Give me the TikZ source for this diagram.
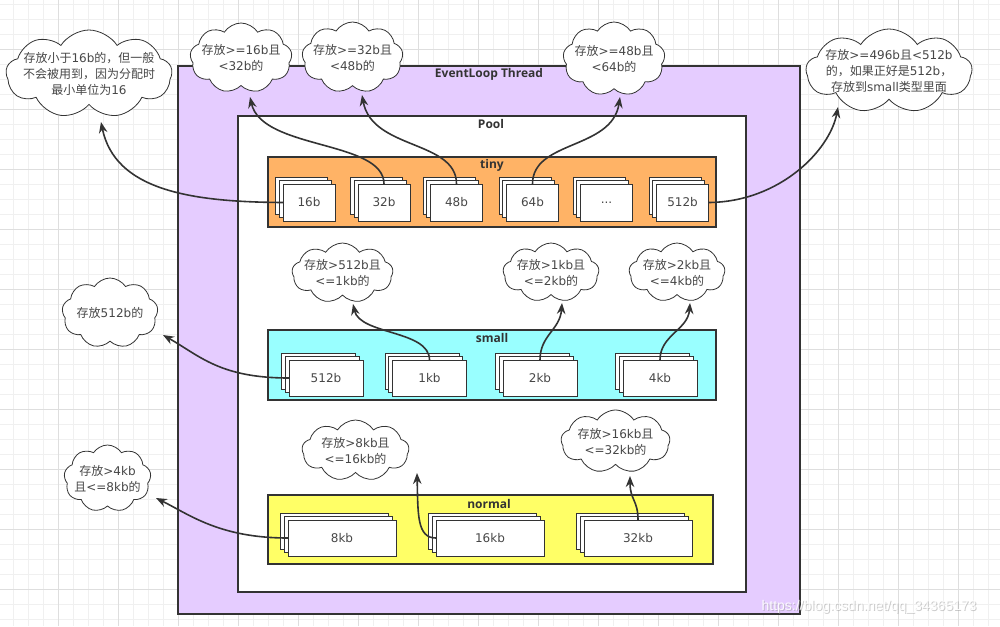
\documentclass[tikz,border=0pt]{standalone}
\usepackage{fontspec}
\setmainfont{DejaVu Sans}
\newfontfamily\cjkf{Noto Sans CJK SC}
\newfontfamily\lblfont{Open Sans}
\newfontfamily\wmfont{Liberation Sans}
\newcommand\zh[1]{{\cjkf #1}}
\usetikzlibrary{arrows.meta,shapes.symbols}
\definecolor{ink}{HTML}{333333}
\definecolor{evtfill}{HTML}{E5CCFF}
\definecolor{tinyfill}{HTML}{FFB366}
\definecolor{smallfill}{HTML}{99FFFF}
\definecolor{normfill}{HTML}{FFFF66}
\definecolor{gridminor}{HTML}{F0F0F0}
\definecolor{gridmajor}{HTML}{DEDEDE}
% stack of three boxes: name, x, y (front centre), width, height, label
\newcommand\stk[6]{%
  \node[sbox,minimum width=#4,minimum height=#5] (#1b) at (#2-7.5,#3-7) {};
  \node[sbox,minimum width=#4,minimum height=#5] (#1m) at (#2-3.75,#3-3.5) {};
  \node[sbox,minimum width=#4,minimum height=#5] (#1) at (#2,#3) {#6};
}
\begin{document}
\begin{tikzpicture}[x=1pt,y=-1pt,
  container/.style={draw=ink,line width=1.2pt,inner sep=0pt,outer sep=0pt},
  hdr/.style={font=\lblfont\bfseries\fontsize{12}{14}\selectfont,text=ink,inner sep=0pt},
  sbox/.style={draw=ink,line width=0.8pt,fill=white,inner sep=0pt,outer sep=0pt,
    font=\fontsize{12}{14}\selectfont,text=ink!90},
  cloudbox/.style={cloud,cloud puffs=9,cloud puff arc=115,cloud ignores aspect,
    draw=ink,line width=0.8pt,fill=white,inner sep=0pt,outer sep=0pt},
  ctext/.style={align=center,font=\fontsize{12}{16}\selectfont,text=ink!90,inner sep=0pt},
  conn/.style={draw=ink,line width=1.6pt,-{Stealth[length=11pt,width=8.5pt]}}
]
\useasboundingbox (0,0) rectangle (1000,626);
\fill[white] (0,0) rectangle (1000,626);
% grid
\foreach \x in {13,28,...,1000} \draw[gridminor,line width=0.8pt] (\x,0) -- (\x,626);
\foreach \y in {4,19,...,626} \draw[gridminor,line width=0.8pt] (0,\y) -- (1000,\y);
\foreach \x in {58,118,...,1000} \draw[gridmajor,line width=0.8pt] (\x,0) -- (\x,626);
\foreach \y in {49,109,...,626} \draw[gridmajor,line width=0.8pt] (0,\y) -- (1000,\y);

% containers
\node[container,fill=evtfill,minimum width=622,minimum height=548] (evt) at (489,340) {};
\node[hdr] (evtlbl) at (489,74) {EventLoop Thread};
\node[container,fill=white,minimum width=508,minimum height=476] (pool) at (492,354) {};
\node[hdr] (poollbl) at (491,124) {Pool};
\node[container,fill=tinyfill,minimum width=448,minimum height=70] (tiny) at (492,192) {};
\node[hdr] (tinylbl) at (492,165) {tiny};
\node[container,fill=smallfill,minimum width=448,minimum height=70] (small) at (492,365) {};
\node[hdr] (smalllbl) at (492,338) {small};
\node[container,fill=normfill,minimum width=445,minimum height=69] (normal) at (490.5,529.5) {};
\node[hdr] (normallbl) at (489,504) {normal};

% tiny stacks
\stk{t16}{309}{202.5}{52}{37}{16b}
\stk{t32}{384}{202.5}{52}{37}{32b}
\stk{t48}{456.5}{202.5}{52}{37}{48b}
\stk{t64}{532.5}{202.5}{52}{37}{64b}
\stk{tdots}{606.5}{202.5}{52}{37}{...}
\stk{t512}{682.5}{202.5}{52}{37}{512b}
% small stacks
\stk{s512}{326}{378}{74}{36}{512b}
\stk{s1k}{429.5}{378}{74}{36}{1kb}
\stk{s2k}{540}{378}{74}{36}{2kb}
\stk{s4k}{660}{378}{74}{36}{4kb}
% normal stacks
\stk{n8}{342}{538}{108}{36}{8kb}
\stk{n16}{490}{538}{108}{36}{16kb}
\stk{n32}{638}{538}{108}{36}{32kb}

% clouds
\node[cloudbox,minimum width=166,minimum height=88] (c1) at (89,74) {};
\node[ctext] (c1t) at (c1) {\zh{存放小于}16b\zh{的，但一般}\\\zh{不会被用到，因为分配时}\\\zh{最小单位为}16};
\node[cloudbox,minimum width=102,minimum height=70] (c2) at (241,58) {};
\node[ctext] (c2t) at (c2) {\zh{存放}>=16b\zh{且}\\<32b\zh{的}};
\node[cloudbox,minimum width=101,minimum height=71] (c3) at (352.5,57.5) {};
\node[ctext] (c3t) at (c3) {\zh{存放}>=32b\zh{且}\\<48b\zh{的}};
\node[cloudbox,minimum width=102,minimum height=74] (c4) at (614,59) {};
\node[ctext] (c4t) at (c4) {\zh{存放}>=48b\zh{且}\\<64b\zh{的}};
\node[cloudbox,minimum width=166,minimum height=84] (c5) at (889,71) {};
\node[ctext] (c5t) at (c5) {\zh{存放}>=496b\zh{且}<512b\\\zh{的，如果正好是}512b\zh{，}\\\zh{存放到}small\zh{类型里面}};

\node[cloudbox,minimum width=96,minimum height=70] (cs0) at (110,313) {};
\node[ctext] (cs0t) at (cs0) {\zh{存放}512b\zh{的}};
\node[cloudbox,minimum width=101,minimum height=60] (cs1) at (342.5,273) {};
\node[ctext] (cs1t) at (cs1) {\zh{存放}>512b\zh{且}\\<=1kb\zh{的}};
\node[cloudbox,minimum width=96,minimum height=59] (cs2) at (551,272.5) {};
\node[ctext] (cs2t) at (cs2) {\zh{存放}>1kb\zh{且}\\<=2kb\zh{的}};
\node[cloudbox,minimum width=96,minimum height=59] (cs3) at (677,272.5) {};
\node[ctext] (cs3t) at (cs3) {\zh{存放}>2kb\zh{且}\\<=4kb\zh{的}};

\node[cloudbox,minimum width=87,minimum height=67] (cn0) at (107.5,478.5) {};
\node[ctext] (cn0t) at (cn0) {\zh{存放}>4kb\\\zh{且}<=8kb\zh{的}};
\node[cloudbox,minimum width=107,minimum height=61] (cn1) at (355.5,450.5) {};
\node[ctext] (cn1t) at (cn1) {\zh{存放}>8kb\zh{且}\\<=16kb\zh{的}};
\node[cloudbox,minimum width=109,minimum height=63] (cn2) at (615.5,441.5) {};
\node[ctext] (cn2t) at (cn2) {\zh{存放}>16kb\zh{且}\\<=32kb\zh{的}};

% arrow tips on the clouds
\coordinate (c1p) at (101,122);
\coordinate (c2p) at (250,97);
\coordinate (c3p) at (362,95);
\coordinate (c4p) at (620,97);
\coordinate (c5p) at (838,107);
\coordinate (cs0p) at (163,335);
\coordinate (cs1p) at (353,304);
\coordinate (cs2p) at (562,303);
\coordinate (cs3p) at (690,303);
\coordinate (cn0p) at (156,498);
\coordinate (cn1p) at (417,473);
\coordinate (cn2p) at (630,476);

% connectors
\draw[conn] (t16.west) .. controls (190,202) and (115,190) .. (c1p);
\draw[conn] (t32.north) .. controls (384,140) and (262,150) .. (c2p);
\draw[conn] (t48.north) .. controls (456.5,140) and (372,150) .. (c3p);
\draw[conn] (t64.north) .. controls (532.5,140) and (612,150) .. (c4p);
\draw[conn] (t512.east) .. controls (780,202) and (830,150) .. (c5p);
\draw[conn] (s512.west) .. controls (220,378) and (200,356) .. (cs0p);
\draw[conn] (s1k.north) .. controls (429.5,330) and (360,335) .. (cs1p);
\draw[conn] (s2k.north) .. controls (540,335) and (560,330) .. (cs2p);
\draw[conn] (s4k.north) .. controls (660,335) and (688,330) .. (cs3p);
\draw[conn] (n8.west) .. controls (220,538) and (190,515) .. (cn0p);
\draw[conn] (n16.west) .. controls (417,538) and (418,515) .. (cn1p);
\draw[conn] (n32.north) .. controls (638,500) and (630,500) .. (cn2p);

% watermark
\node[font=\wmfont\fontsize{14}{16}\selectfont,text=black!40,opacity=0.5,inner sep=0pt] (wms) at (870,608) {https://blog.csdn.net/qq\_34365173};
\node[font=\wmfont\fontsize{14}{16}\selectfont,text=white,opacity=0.9,inner sep=0pt] (wm) at (869,607) {https://blog.csdn.net/qq\_34365173};
\end{tikzpicture}
\end{document}
